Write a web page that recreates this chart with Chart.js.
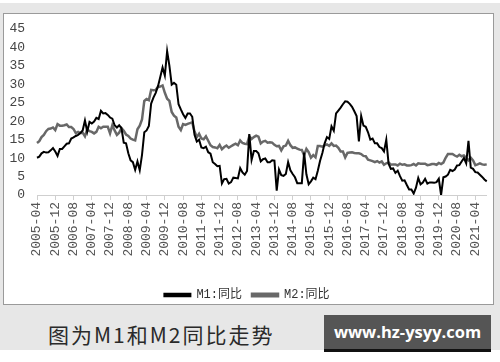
<!DOCTYPE html>
<html>
<head>
<meta charset="utf-8">
<script src="https://cdn.jsdelivr.net/npm/chart.js@4.4.1/dist/chart.umd.min.js"></script>
<style>
  body { margin: 0; background: #fff; width: 500px; height: 362px; position: relative; overflow: hidden; }
  #page { position: absolute; left: 0; top: 3px; width: 500px; height: 347px; background: #e7e7e7; }
  #box { position: absolute; left: 3px; top: 13px; width: 489px; height: 290px; background: #fff; border: 1px solid #9a9a9a; }
  #chart { position: absolute; left: 0; top: 0; }
  #caption { position: absolute; left: 48px; top: 319px; font-family: "Noto Sans CJK SC"; font-size: 21px; letter-spacing: 2px; color: #2a2a2a; }
  #mark { position: absolute; left: 324px; top: 315px; width: 167px; height: 34px; background: #555; border-bottom: 3px solid #111;
          color: #fff; font-family: "Open Sans"; font-weight: bold; font-size: 16.5px; line-height: 34px; text-align: center; }
</style>
</head>
<body>
<div id="page"></div>
<div id="box"><canvas id="chart" width="489" height="297"></canvas></div>
<div id="caption">图为M1和M2同比走势</div>
<div id="mark">www.hz-ysyy.com</div>
<script>
// M1、M2 同比 (%), 2005-04 ~ 2021-09, 月度
const firstYear = 2005, firstMonth = 4, nMonths = 198;

const m1 = [
  10.1, 10.4, 11.3, 11.7, 11.5, 11.6, 12.1, 12.7, 11.8,
  10.6, 12.5, 12.5, 13.2, 13.9, 14.0, 15.3, 15.6, 16.0, 16.3, 16.8, 17.5,
  20.2, 17.2, 19.8, 19.4, 19.9, 20.9, 20.6, 22.8, 22.1, 22.2, 21.7, 21.0,
  20.7, 18.9, 18.3, 18.9, 18.1, 14.2, 14.0, 11.3, 9.4, 8.9, 6.8, 9.1,
  6.7, 10.9, 17.0, 17.5, 18.7, 24.8, 26.4, 27.7, 29.5, 32.0, 34.6, 32.4,
  39.0, 35.0, 29.9, 30.4, 29.9, 24.6, 23.2, 21.9, 20.9, 22.1, 22.1, 21.2,
  16.3, 14.5, 15.0, 12.9, 12.7, 13.1, 11.6, 11.2, 8.9, 8.4, 7.8, 7.9,
  3.1, 4.3, 4.4, 3.1, 3.5, 4.7, 4.6, 4.5, 7.3, 6.1, 5.5, 6.5,
  16.5, 9.5, 11.9, 11.9, 11.3, 9.1, 9.7, 9.9, 8.9, 8.9, 9.4, 9.3,
  1.2, 6.9, 5.4, 5.2, 5.7, 8.9, 6.7, 5.7, 4.8, 3.2, 3.2, 3.2,
  11.5, 5.6, 2.9, 3.7, 4.7, 4.3, 6.6, 9.3, 11.4, 14.0, 15.7, 15.2,
  18.6, 17.4, 22.1, 22.9, 23.7, 24.6, 25.4, 25.3, 24.7, 23.9, 22.7, 21.4,
  14.5, 21.4, 18.8, 18.5, 17.0, 15.0, 15.3, 14.0, 14.0, 13.0, 12.7, 11.8,
  15.0, 8.5, 7.1, 7.2, 6.0, 6.6, 5.1, 3.9, 4.0, 2.7, 1.5, 1.5,
  0.4, 2.0, 4.6, 2.9, 3.4, 4.4, 3.1, 3.4, 3.4, 3.3, 3.5, 4.4,
  0.0, 4.8, 5.0, 5.5, 6.8, 6.5, 6.9, 8.0, 8.1, 9.1, 10.0, 8.6,
  14.7, 7.4, 7.1, 6.2, 6.1, 5.5, 4.9, 4.2, 3.7
];

const m2 = [
  14.1, 14.6, 15.7, 16.3, 17.3, 17.9, 18.0, 18.3, 17.6,
  19.2, 18.8, 18.8, 18.9, 19.1, 18.4, 18.4, 17.9, 16.8, 17.1, 16.8, 16.9,
  15.9, 17.8, 17.3, 17.1, 16.7, 17.1, 18.5, 18.1, 18.5, 18.5, 18.5, 16.7,
  18.9, 17.5, 16.3, 16.9, 18.1, 17.4, 16.4, 16.0, 15.3, 15.0, 14.8, 17.8,
  18.8, 20.5, 25.5, 26.0, 25.7, 28.5, 28.4, 28.5, 29.3, 29.4, 29.7, 27.7,
  26.1, 25.5, 22.5, 21.5, 21.0, 18.5, 17.6, 19.2, 19.0, 19.3, 19.5, 19.7,
  17.2, 15.7, 16.6, 15.3, 15.1, 15.9, 14.7, 13.5, 13.0, 12.9, 12.7, 13.6,
  12.4, 13.0, 13.4, 12.8, 13.2, 13.6, 13.9, 13.5, 14.8, 14.1, 13.9, 13.8,
  15.9, 15.2, 15.7, 16.1, 15.8, 14.0, 14.5, 14.7, 14.2, 14.3, 14.2, 13.6,
  13.2, 13.3, 12.1, 13.2, 13.4, 14.7, 13.5, 12.8, 12.9, 12.6, 12.3, 12.2,
  10.8, 12.5, 11.6, 10.1, 10.8, 10.2, 13.3, 13.3, 13.1, 13.5, 13.7, 13.3,
  14.0, 13.3, 13.4, 12.8, 11.8, 11.8, 10.2, 11.4, 11.5, 11.6, 11.4, 11.3,
  11.3, 11.1, 10.6, 10.5, 9.6, 9.4, 9.2, 8.9, 9.2, 8.8, 9.1, 8.2,
  8.6, 8.8, 8.2, 8.3, 8.3, 8.0, 8.5, 8.2, 8.3, 8.0, 8.0, 8.1,
  8.4, 8.0, 8.6, 8.5, 8.5, 8.5, 8.1, 8.2, 8.4, 8.4, 8.2, 8.7,
  8.4, 8.8, 10.1, 11.1, 11.1, 11.1, 10.7, 10.4, 10.9, 10.5, 10.7, 10.1,
  9.4, 10.1, 9.4, 8.1, 8.3, 8.6, 8.3, 8.2, 8.3
];

// 月份标签 2005-04 ...
const months = [];
for (let i = 0; i < nMonths; i++) {
  let t = firstMonth - 1 + i;
  let y = firstYear + Math.floor(t / 12);
  let m = (t % 12) + 1;
  months.push(y + "-" + (m < 10 ? "0" + m : m));
}

const yMin = 0, yMax = 45, yStep = 5;
const labelEvery = 8; // 每8个月显示一个标签

new Chart(document.getElementById("chart"), {
  type: "line",
  data: {
    labels: months,
    datasets: [
      {
        label: "M1:同比",
        data: m1,
        borderColor: "#000",
        backgroundColor: "#000",
        borderWidth: 2,
        pointRadius: 0,
        tension: 0
      },
      {
        label: "M2:同比",
        data: m2,
        borderColor: "#686868",
        backgroundColor: "#686868",
        borderWidth: 2.5,
        pointRadius: 0,
        tension: 0
      }
    ]
  },
  options: {
    responsive: false,
    animation: false,
    devicePixelRatio: 1,
    layout: { padding: { top: 15, right: 3, left: 0, bottom: 0 } },
    plugins: {
      tooltip: { enabled: false },
      legend: {
        position: "bottom",
        labels: {
          boxWidth: 26,
          boxHeight: 2.5,
          padding: 10,
          color: "#333",
          font: { family: "'Liberation Mono', 'Noto Sans CJK SC'", size: 12 }
        }
      }
    },
    scales: {
      x: {
        offset: false,
        grid: { drawOnChartArea: false, color: "#cfcfcf", tickLength: 5 },
        border: { color: "#cfcfcf" },
        ticks: {
          autoSkip: false,
          minRotation: 90,
          maxRotation: 90,
          padding: 2,
          color: "#555",
          font: { family: "Liberation Mono", size: 13 },
          callback: function (v, i) { return i % labelEvery === 0 ? months[i] : null; }
        },
        afterFit: function (s) { s.height = 84; }
      },
      y: {
        min: yMin,
        max: yMax,
        grid: { display: false },
        border: { display: false },
        ticks: {
          stepSize: yStep,
          autoSkip: false,
          padding: 4,
          color: "#444",
          font: { family: "Liberation Mono", size: 13 }
        },
        afterFit: function (s) { s.width = 33; }
      }
    }
  }
});
</script>
</body>
</html>
